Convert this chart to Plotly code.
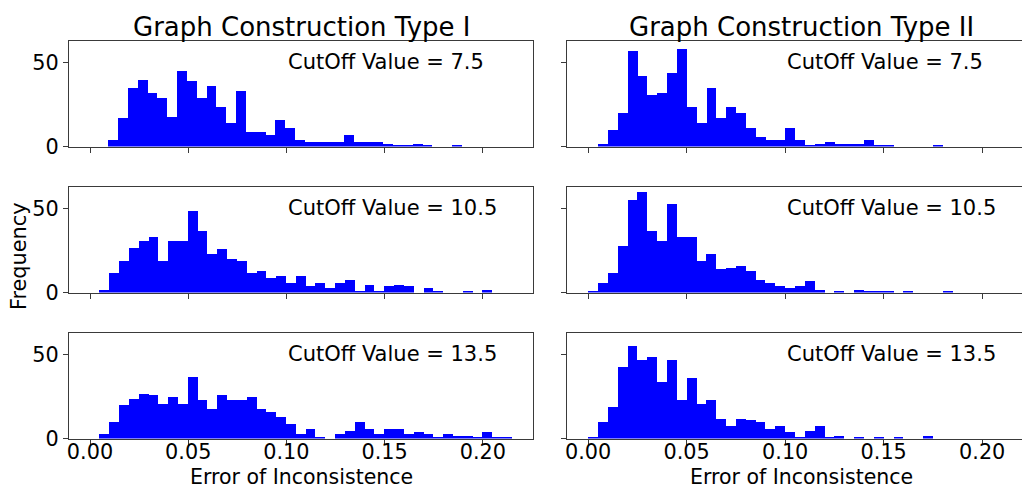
import plotly.graph_objects as go

# ---------------- data ----------------
bin_width = 0.005

# Graph Construction Type I
t1_c75_start = 0.0093
t1_c75_counts = [4, 17, 35, 40, 32, 29, 18, 45, 39, 29, 36, 24, 14, 33, 9, 9, 7, 16, 11, 4,
                 3, 3, 3, 3, 7, 3, 3, 3, 2, 1, 1, 2, 1, 0, 0, 1]
t1_c105_start = 0.00475
t1_c105_counts = [2, 12, 19, 27, 31, 33, 19, 31, 31, 49, 37, 23, 26, 20, 19, 12, 13, 9, 10, 6,
                  10, 4, 6, 3, 6, 8, 1, 5, 1, 4, 5, 4, 0, 3, 1, 0, 0, 1, 0, 2]
t1_c135_start = 0.00475
t1_c135_counts = [3, 10, 20, 24, 27, 26, 21, 25, 21, 37, 23, 18, 26, 23, 23, 25, 18, 16, 13, 9,
                  3, 6, 1, 0, 3, 5, 10, 6, 3, 6, 6, 3, 4, 3, 1, 3, 2, 2, 1, 4, 1, 1]

# Graph Construction Type II
t2_c75_start = 0.0051
t2_c75_counts = [2, 10, 20, 57, 42, 31, 32, 44, 58, 24, 14, 35, 17, 24, 20, 11, 6, 4, 4, 11,
                 4, 1, 2, 3, 2, 2, 2, 4, 1, 1, 0, 0, 0, 0, 1]
t2_c105_start = 0.0
t2_c105_counts = [1, 6, 12, 28, 55, 60, 37, 31, 53, 33, 33, 19, 23, 14, 15, 16, 13, 8, 6, 4,
                  3, 4, 7, 2, 0, 1, 0, 2, 1, 1, 1, 0, 1, 0, 0, 0, 1]
t2_c135_start = 0.0
t2_c135_counts = [1, 10, 19, 43, 55, 47, 49, 34, 47, 23, 36, 21, 23, 12, 8, 12, 11, 10, 6, 8,
                  4, 1, 5, 8, 1, 2, 0, 1, 0, 1, 0, 1, 0, 0, 2]

column_titles = ["Graph Construction Type I", "Graph Construction Type II"]
cutoff_labels = ["CutOff Value = 7.5", "CutOff Value = 10.5", "CutOff Value = 13.5"]
x_tick_vals = [0.0, 0.05, 0.10, 0.15, 0.20]
x_tick_text = ["0.00", "0.05", "0.10", "0.15", "0.20"]
y_tick_vals = [0, 50]
y_tick_text = ["0", "50"]
x_label = "Error of Inconsistence"
y_label = "Frequency"

# ---------------- layout ----------------
W, H = 1022, 489
FONT = "DejaVu Sans"
LINE = "#3a3a3a"

panels = [  # (row, col, start, counts)
    (0, 0, t1_c75_start, t1_c75_counts),
    (0, 1, t2_c75_start, t2_c75_counts),
    (1, 0, t1_c105_start, t1_c105_counts),
    (1, 1, t2_c105_start, t2_c105_counts),
    (2, 0, t1_c135_start, t1_c135_counts),
    (2, 1, t2_c135_start, t2_c135_counts),
]

col_px = [(68.9, 533.4), (567.0, 1022.0)]
col_range = [(-0.01075, 0.22575), (-0.01075, 0.2202)]
row_px = [(40.5, 146.5), (186.5, 292.5), (332.5, 438.5)]
col_center_px = [301.0, 801.0]

fig = go.Figure()
layout = dict(
    template="none",
    width=W, height=H, autosize=False,
    margin=dict(l=0, r=0, t=0, b=0, pad=0),
    paper_bgcolor="white", plot_bgcolor="white",
    showlegend=False, bargap=0,
    font=dict(family=FONT, size=21, color="black"),
)
annotations = []

for i, (r, c, start, counts) in enumerate(panels):
    n = i + 1
    xname = "x" if n == 1 else f"x{n}"
    yname = "y" if n == 1 else f"y{n}"
    centers = [start + bin_width * (k + 0.5) for k in range(len(counts))]
    fig.add_trace(go.Bar(
        x=centers, y=counts, width=[bin_width] * len(counts),
        marker=dict(color="#0000ff", line=dict(width=0)),
        xaxis=xname, yaxis=yname, hoverinfo="x+y",
    ))
    x0, x1 = col_px[c]
    y0, y1 = row_px[r]
    layout["xaxis" if n == 1 else f"xaxis{n}"] = dict(
        domain=[x0 / W, x1 / W], range=list(col_range[c]), anchor=yname,
        tickvals=x_tick_vals, ticktext=x_tick_text, showticklabels=(r == 2),
        ticks="outside", ticklen=5, tickwidth=1, tickcolor=LINE,
        showline=True, linecolor=LINE, linewidth=1, mirror=True,
        showgrid=False, zeroline=False, tickfont=dict(size=20.8, color="black"),
        ticklabelstandoff=-10, automargin=False, fixedrange=True,
    )
    layout["yaxis" if n == 1 else f"yaxis{n}"] = dict(
        domain=[1 - y1 / H, 1 - y0 / H], range=[0, 63], anchor=xname,
        tickvals=y_tick_vals, ticktext=y_tick_text, showticklabels=(c == 0),
        ticks="outside", ticklen=5, tickwidth=1, tickcolor=LINE,
        showline=True, linecolor=LINE, linewidth=1, mirror=(c == 0),
        showgrid=False, zeroline=False, tickfont=dict(size=20.8, color="black"),
        automargin=False, fixedrange=True,
    )
    annotations.append(dict(
        text=cutoff_labels[r], xref=xname, yref=yname, x=0.1, y=50,
        xanchor="left", yanchor="middle", showarrow=False,
        font=dict(size=21, family=FONT, color="black"),
    ))

for c in range(2):
    annotations.append(dict(
        text=column_titles[c], xref="paper", yref="paper",
        x=col_center_px[c] / W, y=1 - 27 / H, xanchor="center", yanchor="middle",
        showarrow=False, font=dict(size=26, family=FONT, color="black"),
    ))
    annotations.append(dict(
        text=x_label, xref="paper", yref="paper", borderpad=0,
        x=col_center_px[c] / W, y=1 - 477 / H, xanchor="center", yanchor="middle",
        showarrow=False, font=dict(size=20.5, family=FONT, color="black"),
    ))

annotations.append(dict(
    text=y_label, xref="paper", yref="paper", x=19 / W, y=1 - 257 / H,
    xanchor="center", yanchor="middle", textangle=-90, showarrow=False,
    font=dict(size=20.8, family=FONT, color="black"),
))

layout["annotations"] = annotations
fig.update_layout(**layout)
fig.write_html("out.html")
